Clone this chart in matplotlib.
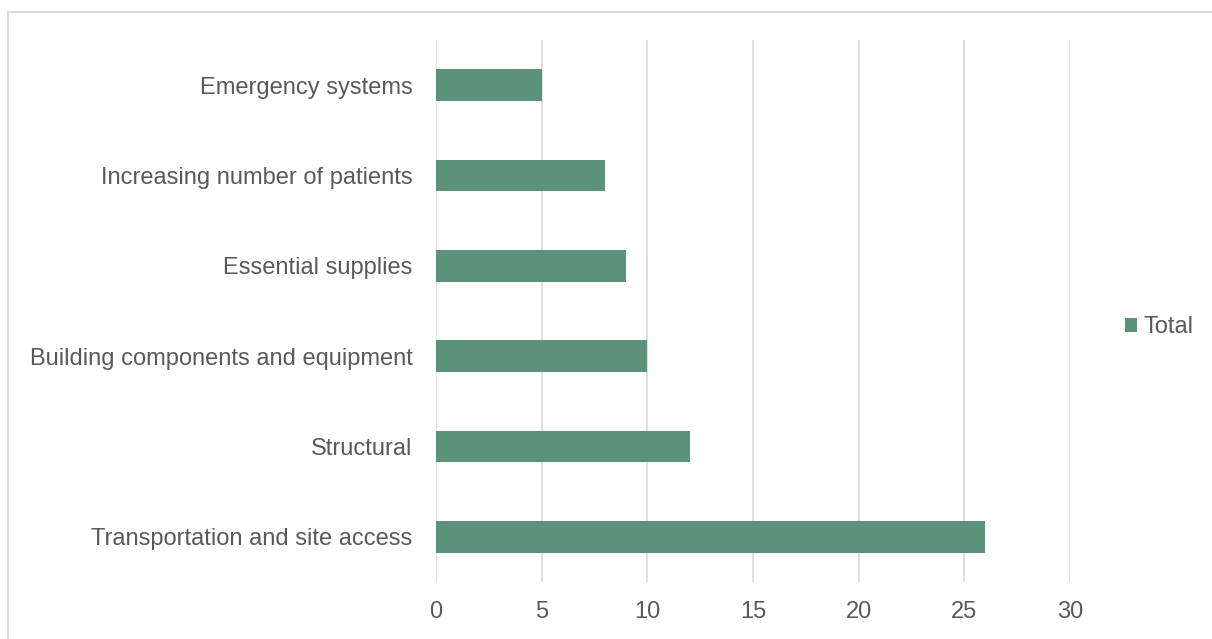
import matplotlib
matplotlib.use("Agg")
from matplotlib import pyplot as plt
from matplotlib.patches import Rectangle

categories = ["Transportation and site access", "Structural",
              "Building components and equipment", "Essential supplies",
              "Increasing number of patients", "Emergency systems"]
totals = [26, 12, 10, 9, 8, 5]
xticks = [0, 5, 10, 15, 20, 25, 30]

plt.rcParams['font.family'] = ['Liberation Sans', 'DejaVu Sans']
txt = "#595959"

fig = plt.figure(figsize=(12.12, 6.39), dpi=100)
ax = fig.add_axes([436/1212, 1-582/639, (1070-436)/1212, (582-40)/639])

ax.barh(range(len(categories)), totals, height=0.35, color="#5b9279", label="Total", zorder=3)

ax.set_xlim(0, 30)
ax.set_ylim(-0.5, len(categories)-0.5)
ax.set_xticks(xticks)
ax.set_yticks(range(len(categories)))
ax.set_yticklabels(categories)
ax.tick_params(length=0, labelsize=17, labelcolor=txt)
ax.tick_params(axis='x', pad=14)
ax.tick_params(axis='y', pad=17)
ax.grid(axis='x', color="#d9d9d9", linewidth=1.2, zorder=0)
for s in ax.spines.values():
    s.set_visible(False)

leg = ax.legend(loc='center left', bbox_to_anchor=(1.053, 0.47), frameon=False,
                fontsize=17, handlelength=0.5, handleheight=0.5, handletextpad=0.3)
for t in leg.get_texts():
    t.set_color(txt)

# outer chart border
fig.patches.append(Rectangle((8/1212, -0.1), 1.2, 1-12/639+0.1, transform=fig.transFigure,
                             fill=False, edgecolor="#d9d9d9", linewidth=1.5))

fig.savefig("out.png", dpi=100)
